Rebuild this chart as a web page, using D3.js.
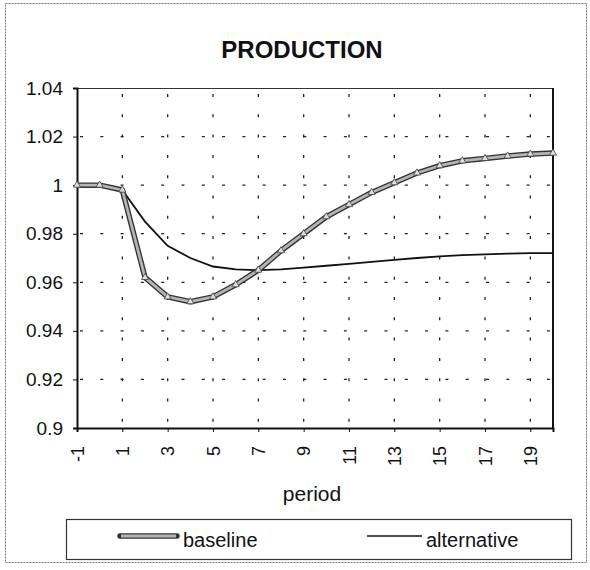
<!DOCTYPE html>
<html><head><meta charset="utf-8">
<script src="https://cdn.jsdelivr.net/npm/d3@7"></script>
<style>body{margin:0;background:#fff}svg{display:block;font-family:"Liberation Sans",Arial,sans-serif}</style>
</head><body><svg id="c" width="590" height="570"></svg>
<script>
const periods = [-1,0,1,2,3,4,5,6,7,8,9,10,11,12,13,14,15,16,17,18,19,20];
const baseline = [1.000,1.000,0.998,0.962,0.954,0.952,0.954,0.959,0.965,0.973,0.980,0.987,0.992,0.997,1.001,1.005,1.008,1.010,1.011,1.012,1.0128,1.0132];
const alternative = [1.000,1.000,0.998,0.985,0.975,0.970,0.9665,0.9653,0.965,0.9653,0.966,0.9668,0.9676,0.9684,0.9692,0.970,0.9707,0.9712,0.9715,0.9718,0.972,0.972];
const xTicks = [-1,1,3,5,7,9,11,13,15,17,19];
const yTicks = [0.9,0.92,0.94,0.96,0.98,1,1.02,1.04];
const seriesNames = ["baseline","alternative"];
const title = "PRODUCTION";
const xTitle = "period";

const svg = d3.select("#c");
const L=77,R=553,T=88,B=428;
const x = d3.scaleLinear().domain([-1,20]).range([L,R]);
const y = d3.scaleLinear().domain([0.9,1.04]).range([B,T]);

// outer border
svg.append("rect").attr("x",5.5).attr("y",3.5).attr("width",581).attr("height",559)
  .attr("fill","none").attr("stroke","#777").attr("stroke-width",1).attr("stroke-dasharray","2 1");

svg.append("text").attr("x",302).attr("y",58).attr("text-anchor","middle")
  .attr("font-size",24).attr("font-weight","bold").attr("fill","#111").text(title);

// gridlines
const g = svg.append("g");
g.selectAll("line.h").data(yTicks.filter(v=>v>0.9 && v<1.04)).join("line")
  .attr("x1",L).attr("x2",R).attr("y1",d=>y(d)).attr("y2",d=>y(d))
  .attr("stroke","#222").attr("stroke-width",1.3).attr("stroke-dasharray","3 17.3").attr("stroke-dashoffset",-3);
g.selectAll("line.v").data(xTicks.filter(v=>v>-1)).join("line")
  .attr("x1",d=>x(d)).attr("x2",d=>x(d)).attr("y1",T).attr("y2",B)
  .attr("stroke","#222").attr("stroke-width",1.3).attr("stroke-dasharray","3 17.3").attr("stroke-dashoffset",-6);

// plot frame
svg.append("line").attr("x1",L).attr("x2",R).attr("y1",T+0.5).attr("y2",T+0.5).attr("stroke","#333").attr("stroke-width",1.2);
svg.append("line").attr("x1",R).attr("x2",R).attr("y1",T).attr("y2",B).attr("stroke","#111").attr("stroke-width",2);

// axes
const yAxis = d3.axisLeft(y).tickValues(yTicks).tickSize(4).tickPadding(10).tickFormat(d=>String(+d.toFixed(2)));
const ya = svg.append("g").attr("transform",`translate(${L},0)`).call(yAxis);
ya.select(".domain").attr("stroke","#111").attr("stroke-width",2);
ya.selectAll("line").attr("stroke","#111");
ya.selectAll("text").attr("font-size",19).attr("fill","#111").attr("font-family","Liberation Sans, Arial, sans-serif");

const xAxis = d3.axisBottom(x).tickValues(xTicks).tickSize(4).tickFormat(d=>String(d));
const xa = svg.append("g").attr("transform",`translate(0,${B})`).call(xAxis);
xa.select(".domain").attr("stroke","#111").attr("stroke-width",2);
xa.selectAll("line").attr("stroke","#111");
xa.selectAll("text").attr("font-size",18).attr("fill","#111").attr("font-family","Liberation Sans, Arial, sans-serif")
  .attr("transform","rotate(-90)").attr("text-anchor","end").attr("x",-18).attr("y",0).attr("dy","0.35em");

svg.append("text").attr("x",312).attr("y",501).attr("text-anchor","middle").attr("font-size",21).attr("fill","#111").text(xTitle);

// lines
const line = d3.line().x((d,i)=>x(periods[i])).y(d=>y(d));
svg.append("path").attr("d",line(alternative)).attr("fill","none").attr("stroke","#111").attr("stroke-width",1.8);
svg.append("path").attr("d",line(baseline)).attr("fill","none").attr("stroke","#333").attr("stroke-width",5.5).attr("stroke-linejoin","round");
svg.append("path").attr("d",line(baseline)).attr("fill","none").attr("stroke","#b5b5b5").attr("stroke-width",2.8).attr("stroke-linejoin","round");
svg.append("g").selectAll("path").data(baseline).join("path")
  .attr("transform",(d,i)=>`translate(${x(periods[i])},${y(d)})`)
  .attr("d",d3.symbol(d3.symbolTriangle,22))
  .attr("fill","#e0e0e0").attr("stroke","#444").attr("stroke-width",0.8);

// legend
const lg = svg.append("g");
lg.append("rect").attr("x",66.5).attr("y",519.5).attr("width",505).attr("height",40)
  .attr("fill","none").attr("stroke","#333").attr("stroke-width",1.2);
lg.append("line").attr("x1",120).attr("x2",177).attr("y1",536).attr("y2",536).attr("stroke","#333").attr("stroke-width",5.5).attr("stroke-linecap","round");
lg.append("line").attr("x1",121).attr("x2",176).attr("y1",536).attr("y2",536).attr("stroke","#b5b5b5").attr("stroke-width",2.8);
lg.append("text").attr("x",183).attr("y",547).attr("font-size",20).attr("fill","#111").text(seriesNames[0]);
lg.append("line").attr("x1",367).attr("x2",422).attr("y1",536).attr("y2",536).attr("stroke","#111").attr("stroke-width",1.5);
lg.append("text").attr("x",426).attr("y",547).attr("font-size",20).attr("fill","#111").text(seriesNames[1]);
</script></body></html>
